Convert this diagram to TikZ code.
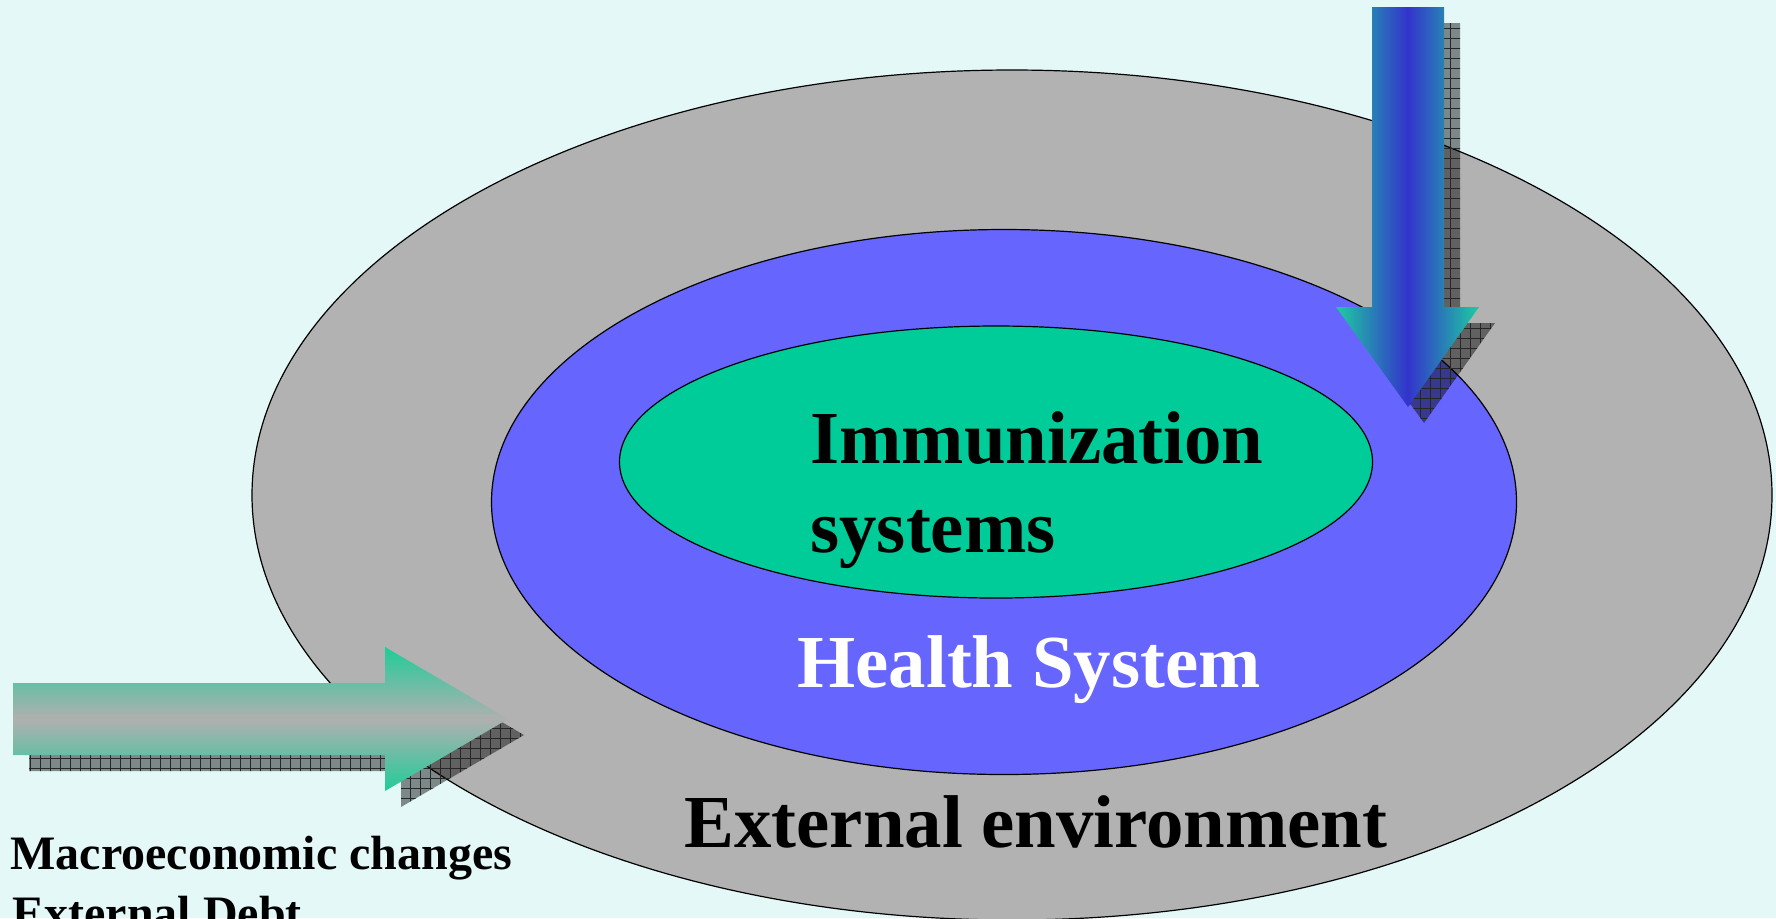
\documentclass[tikz,border=0pt]{standalone}
\usepackage{fontspec}
\setmainfont{Liberation Serif}
\usetikzlibrary{shapes.geometric,patterns.meta}
\definecolor{bg}{HTML}{E4F8F8}
\definecolor{outergray}{HTML}{B2B2B2}
\definecolor{healthblue}{HTML}{6666FF}
\definecolor{immgreen}{HTML}{00CC99}
\definecolor{arrowblue}{HTML}{3333CC}
\definecolor{arrowteal}{HTML}{1ECCA0}
\definecolor{arrowgreen}{HTML}{20CC98}
\definecolor{arrowgray}{HTML}{B0B0B0}
\begin{document}
\begin{tikzpicture}[x=0.5pt,y=-0.5pt,
  ring/.style={ellipse, draw=black, line width=0.6pt, inner sep=0pt},
  bigtext/.style={font=\fontsize{37.4}{44}\selectfont\bfseries, inner sep=0pt, anchor=base west},
  smalltext/.style={font=\fontsize{24}{28}\selectfont\bfseries, inner sep=0pt, anchor=base west},
  shadowfill/.style={fill=black, fill opacity=0.45},
  hatchfill/.style={pattern={Hatch[angle=0,distance=5pt,line width=0.35pt]}, pattern color=black!85}]
\fill[bg] (0,0) rectangle (1776,918);
\useasboundingbox (0,0) rectangle (1776,918);
% ellipses
\node[ring, fill=outergray, minimum width=760pt, minimum height=425pt] (outer) at (1012,495) {};
\node[ring, fill=healthblue, minimum width=512.5pt, minimum height=272.5pt] (health) at (1004,502) {};
\node[ring, fill=immgreen, minimum width=376.5pt, minimum height=136pt] (imm) at (996,462) {};
% texts
\node[bigtext] (imm1) at (810,463) {Immunization};
\node[bigtext] (imm2) at (810,552) {systems};
\node[bigtext, text=white] (hs) at (797,687) {Health System};
\node[bigtext] (ext) at (684,847) {External environment};
\node[smalltext] (macro) at (10,869) {Macroeconomic changes};
\node[smalltext] (debt) at (12,929) {External Debt};
% down arrow shadow
\begin{scope}[shift={(16,16)}]
\fill[shadowfill] (1372,7) -- (1444,7) -- (1444,307) -- (1479,307) -- (1408,407) -- (1336,307) -- (1372,307) -- cycle;
\fill[hatchfill] (1372,7) -- (1444,7) -- (1444,307) -- (1479,307) -- (1408,407) -- (1336,307) -- (1372,307) -- cycle;
\end{scope}
% down arrow
\shade[left color=arrowteal, right color=arrowteal, middle color=arrowblue]
  (1372,7) -- (1444,7) -- (1444,307) -- (1479,307) -- (1408,407) -- (1336,307) -- (1372,307) -- cycle;
% left arrow shadow
\begin{scope}[shift={(16,16)}]
\fill[shadowfill] (13,683) -- (385,683) -- (385,647) -- (508,719) -- (385,791) -- (385,755) -- (13,755) -- cycle;
\fill[hatchfill] (13,683) -- (385,683) -- (385,647) -- (508,719) -- (385,791) -- (385,755) -- (13,755) -- cycle;
\end{scope}
% left arrow
\shade[top color=arrowgreen, bottom color=arrowgreen, middle color=arrowgray]
  (13,683) -- (385,683) -- (385,647) -- (508,719) -- (385,791) -- (385,755) -- (13,755) -- cycle;
\end{tikzpicture}
\end{document}
